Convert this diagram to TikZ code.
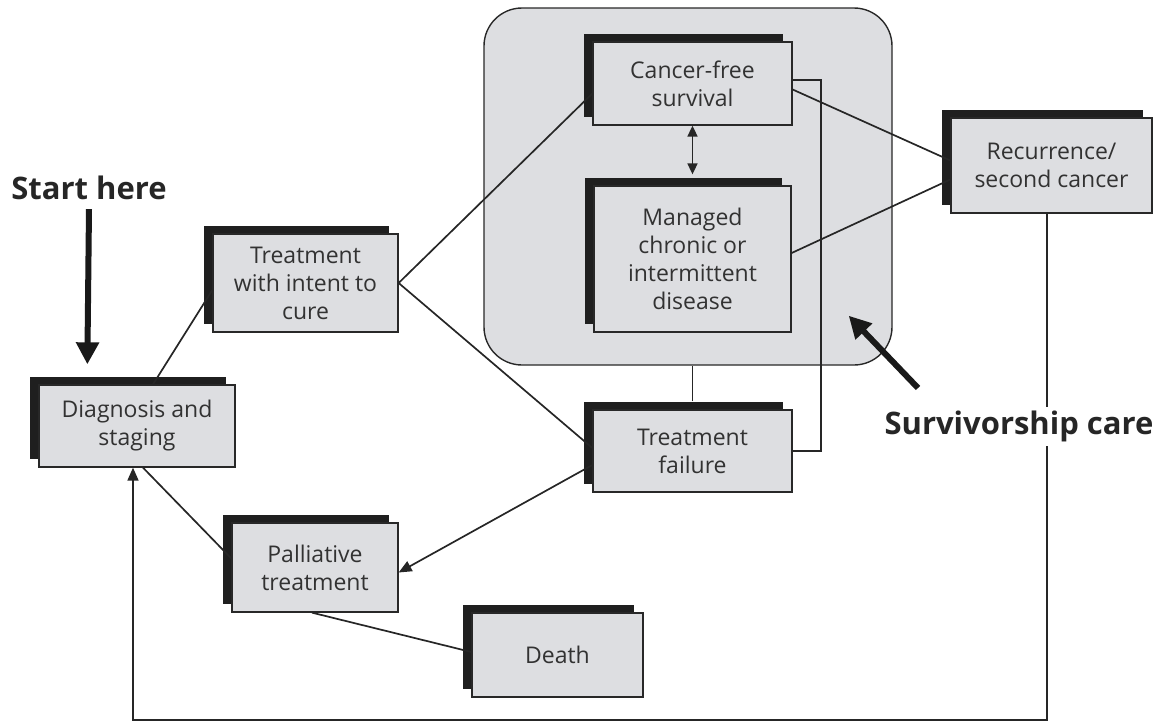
\documentclass[tikz,border=0pt]{standalone}
\usepackage{fontspec}
\setmainfont{Open Sans}
\usetikzlibrary{arrows.meta,calc,shadows}
\definecolor{boxgray}{RGB}{221,222,225}
\definecolor{txt}{RGB}{50,50,50}
\definecolor{edge}{RGB}{40,40,40}
\begin{document}
\begin{tikzpicture}[x=1pt,y=-1pt,
  sbox/.style={draw=edge,line width=1.3pt,fill=boxgray,text=txt,align=center,inner sep=0pt,
    font=\fontsize{23}{28}\selectfont,
    drop shadow={shadow xshift=-9pt,shadow yshift=8pt,opacity=1,fill=black!88}},
  region/.style={draw=edge,line width=1.4pt,fill=boxgray,rounded corners=38pt,inner sep=0pt},
  conn/.style={draw=black!85,line width=1.7pt},
  arr/.style={conn,-{Triangle[length=13pt,width=11pt]}},
  dblarr/.style={conn,{Triangle[length=11pt,width=10pt]}-{Triangle[length=11pt,width=10pt]}},
  bigarrow/.style={draw=black!90,line width=6pt,-{Triangle[length=22pt,width=22pt]}},
  biglabel/.style={font=\fontsize{31}{36}\selectfont\bfseries,text=black!85,inner sep=0pt}
]
\useasboundingbox (0,0) rectangle (1163,723);
% survivorship region
\node[region,minimum width=408pt,minimum height=357pt] (care) at (688,186.5) {};
% boxes
\node[sbox,minimum width=196pt,minimum height=82pt] (diag) at (137,426) {Diagnosis and\\staging};
\node[sbox,minimum width=185pt,minimum height=98pt] (cure) at (305.5,283) {Treatment\\with intent to\\cure};
\node[sbox,minimum width=199pt,minimum height=83pt] (cf) at (692.5,83.5) {Cancer-free\\survival};
\node[sbox,minimum width=197pt,minimum height=146pt] (mg) at (692.5,259) {Managed\\chronic or\\intermittent\\disease};
\node[sbox,minimum width=201pt,minimum height=95pt] (rec) at (1051.5,165.5) {Recurrence/\\second cancer};
\node[sbox,minimum width=199pt,minimum height=82pt] (tf) at (692.5,451) {Treatment\\failure};
\node[sbox,minimum width=166pt,minimum height=89pt] (pall) at (315,567.5) {Palliative\\treatment};
\node[sbox,minimum width=171pt,minimum height=84pt] (death) at (557.5,655) {Death};
% labels
\node[biglabel] (start) at (89,188) {Start here};
\coordinate (survtail) at (918,388);
% connectors
\draw[conn] ($(diag.north)+(16,0)$) -- ($(cure.west)+(0,7)$);
\draw[conn] (cure.east) -- ($(cf.west)+(0,10)$);
\draw[conn] (cure.east) -- ($(tf.west)+(0,-3)$);
\draw[arr] ($(tf.west)+(0,14)$) -- ($(pall.east)+(0,5)$);
\draw[conn] ($(diag.south)+(6,0)$) -- ($(pall.west)+(0,-9)$);
\draw[conn] ($(pall.south)+(-3,0)$) -- ($(death.west)+(0,-3)$);
\draw[dblarr] (cf.south) -- ($(mg.north)+(0,-11)$);
\draw[conn] ($(cf.east)+(0,6)$) -- ($(rec.west)+(0,-5)$);
\draw[conn] ($(mg.east)+(0,-6)$) -- ($(rec.west)+(0,14)$);
\draw[conn] (tf.east) -- ++(28,0) |- ($(cf.east)+(0,-3.5)$);
\draw[conn] ($(tf.north)+(0,-8)$) -- (tf.north |- care.south);
\draw[arr] ($(rec.south)+(-4.5,0)$) -- ++(0,506) -| ($(diag.south)+(-4,0)$);
\node[biglabel,fill=white,inner sep=4pt] (surv) at (1019,426) {Survivorship care};
\draw[bigarrow] ($(start.south)+(0,9)$) -- ($(diag.north west)+(49,-20)$);
\draw[bigarrow] (survtail) -- ($(care.south east)+(-44,-50)$);
\end{tikzpicture}
\end{document}
